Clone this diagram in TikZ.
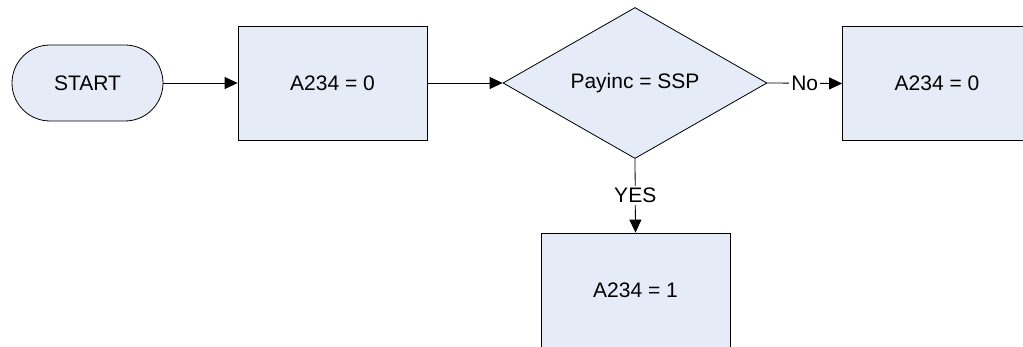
\documentclass[tikz,border=0pt]{standalone}
\usepackage{fontspec}
\setmainfont{Liberation Sans}
\usetikzlibrary{arrows.meta,shapes.geometric}

\definecolor{boxfill}{RGB}{230,236,247}

\tikzset{
  every node/.style={font=\fontsize{21}{25}\selectfont},
  flowbox/.style={draw, fill=boxfill, minimum width=189pt, minimum height=114pt, inner sep=0pt},
  startbox/.style={draw, fill=boxfill, rounded corners=38pt, minimum width=151pt, minimum height=76pt, inner sep=0pt},
  testbox/.style={draw, diamond, fill=boxfill, aspect=1.75, minimum width=264pt, minimum height=151pt, inner sep=0pt},
  flowarrow/.style={-{Triangle[length=13pt,width=12pt]}},
  answer/.style={fill=white, inner sep=2pt}
}

\begin{document}
\begin{tikzpicture}[x=1pt,y=-1pt,line width=0.8pt]
    \useasboundingbox (0,0) rectangle (1023,347);
    \clip (0,0) rectangle (1023,347);

    \node[startbox] (start) at (87.5,83) {START};% draw the start
    \node[flowbox] (zero) at (332.5,83) {A234 = 0};% draw the box
    \node[testbox] (test) at (635,83) {Payinc = SSP};% draw the test
    \node[flowbox] (zeroNo) at (937,83.5) {A234 = 0};
    \node[flowbox] (one) at (635.5,290) {A234 = 1};

    % Arrows
    \draw[flowarrow] (start) -- (zero);
    \draw[flowarrow] (zero) -- (test);
    \draw[flowarrow] (test.east) -- node[answer] {No} (zeroNo.west);
    \draw[flowarrow] (test.south) -- node[answer] {YES} (one.north);

\end{tikzpicture}
\end{document}
